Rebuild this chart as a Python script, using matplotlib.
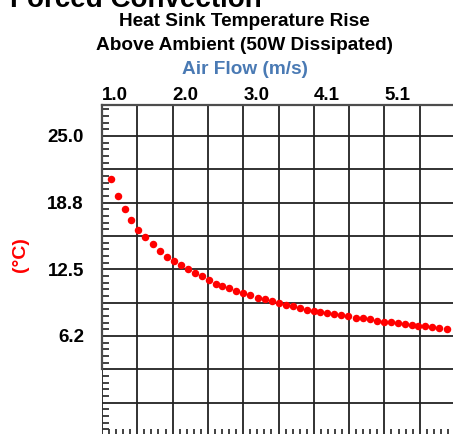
import matplotlib
matplotlib.use('Agg')
import matplotlib.pyplot as plt
from matplotlib.ticker import MultipleLocator, FuncFormatter

plt.rcParams['font.family'] = ['Liberation Sans', 'DejaVu Sans']
plt.rcParams['font.weight'] = 'bold'

# --- dati ---
# velocita' dell'aria (m/s)
air_flow = [1.14, 1.24, 1.34, 1.44, 1.54, 1.64, 1.75, 1.85, 1.95, 2.05,
            2.15, 2.25, 2.35, 2.45, 2.55, 2.65, 2.75, 2.85, 2.95, 3.05,
            3.15, 3.26, 3.36, 3.46, 3.56, 3.66, 3.76, 3.86, 3.96, 4.06,
            4.16, 4.26, 4.36, 4.46, 4.56, 4.67, 4.77, 4.87, 4.97, 5.07,
            5.17, 5.27, 5.37, 5.47, 5.57, 5.67, 5.77, 5.87, 5.98]
# aumento di temperatura (C)
temp_rise = [20.94, 19.35, 18.16, 17.10, 16.16, 15.51, 14.88, 14.22, 13.63, 13.28,
             12.88, 12.51, 12.16, 11.85, 11.48, 11.16, 10.94, 10.73, 10.50, 10.26,
             10.07, 9.85, 9.70, 9.55, 9.32, 9.16, 9.07, 8.88, 8.72, 8.60,
             8.48, 8.40, 8.31, 8.22, 8.13, 7.97, 7.90, 7.85, 7.69, 7.60,
             7.54, 7.47, 7.41, 7.32, 7.22, 7.16, 7.10, 7.03, 6.94]

x_step = 0.508     # 100 ft/min
y_step = 3.125
x_lim = (1.016, 6.096)
y_lim = (-3.125, 27.9)

W, H = 453, 434
fig = plt.figure(figsize=(W / 100, H / 100), dpi=100)
ax = fig.add_axes([102 / W, 1 - 436 / H, (455 - 102) / W, (436 - 105) / H])

ax.plot(air_flow, temp_rise, 'o', color='#ff0000', markersize=5.4,
        markeredgewidth=0, zorder=3)

ax.set_xlim(*x_lim)
ax.set_ylim(*y_lim)

# griglia
ax.xaxis.set_major_locator(MultipleLocator(x_step))
ax.xaxis.set_minor_locator(MultipleLocator(x_step / 5))
ax.yaxis.set_major_locator(MultipleLocator(y_step))
ax.yaxis.set_minor_locator(MultipleLocator(y_step / 5))
ax.grid(True, which='major', color='#222222', linewidth=1.3)


def fmt_x(v, pos):
    if v > x_lim[1] - 0.1:
        return ''
    return f'{v:.1f}' if round(v / x_step) % 2 == 0 else ''


def fmt_y(v, pos):
    k = round(v / y_step)
    return f'{v:.1f}' if (k % 2 == 0 and k > 0) else ''


ax.xaxis.set_major_formatter(FuncFormatter(fmt_x))
ax.yaxis.set_major_formatter(FuncFormatter(fmt_y))

ax.tick_params(axis='x', which='major', top=True, labeltop=True, bottom=False,
               labelbottom=False, length=0, pad=1, labelsize=13.5)
ax.tick_params(axis='x', which='minor', top=False, bottom=True, direction='in',
               length=5, width=1.3, color='#333333')
ax.tick_params(axis='y', which='major', left=True, length=0, pad=13, labelsize=13.5)
ax.tick_params(axis='y', which='minor', left=True, direction='in',
               length=5, width=1.3, color='#333333')
for lab in ax.get_xticklabels():
    lab.set_horizontalalignment('left')

for s in ['top', 'left', 'right', 'bottom']:
    ax.spines[s].set_color('#4d4d4d')
    ax.spines[s].set_linewidth(1.6)
ax.spines['left'].set_bounds(y_step, y_lim[1])

# testi
fig.text(10 / W, 1 - 7 / H, 'Forced Convection', fontsize=20, fontweight='bold',
         ha='left', va='baseline')
fig.text(244 / W, 1 - 22 / H, 'Heat Sink Temperature Rise', fontsize=13.7,
         fontweight='bold', ha='center', va='center')
fig.text(244 / W, 1 - 45 / H, 'Above Ambient (50W Dissipated)', fontsize=13.7,
         fontweight='bold', ha='center', va='center')
fig.text(245 / W, 1 - 70 / H, 'Air Flow (m/s)', fontsize=13.7, fontweight='bold',
         color='#4a7ab4', ha='center', va='center')
fig.text(20 / W, 1 - 255 / H, '(°C)', fontsize=14, fontweight='bold',
         color='#ff0000', rotation=90, ha='center', va='center')

fig.savefig('out.png', dpi=100)
